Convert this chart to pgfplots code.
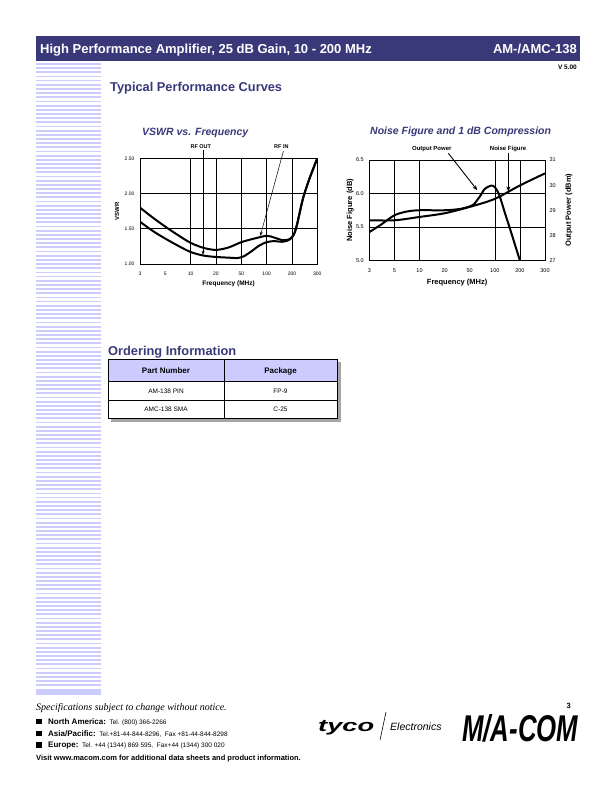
\documentclass[border=0pt]{standalone}
\usepackage{fontspec}
\setmainfont{Liberation Sans}
\newfontfamily\timesfont{Liberation Serif}
\usepackage{pgfplots}
\usepackage{pgfplotstable}
\pgfplotsset{compat=1.18}
\usetikzlibrary{arrows.meta}
\definecolor{navy}{RGB}{57,57,122}
\definecolor{lav}{RGB}{204,204,255}
\newcommand{\fs}[1]{\fontsize{#1}{#1}\selectfont}

\pgfplotstableread{
x y
0 1.80
0.5 1.66
1 1.53
1.5 1.41
2 1.30
2.5 1.23
3 1.20
3.5 1.235
4 1.31
4.5 1.36
5 1.40
5.3 1.375
5.6 1.34
5.85 1.345
6 1.38
6.1 1.44
6.2 1.56
6.3 1.72
6.45 1.95
6.7 2.22
7 2.50
}\rfin

\pgfplotstableread{
x y
0 1.60
0.5 1.47
1 1.36
1.5 1.26
2 1.17
2.5 1.12
3 1.10
3.5 1.09
3.85 1.085
4.1 1.11
4.4 1.18
4.7 1.26
5 1.31
5.3 1.325
5.6 1.315
5.85 1.335
6 1.38
6.1 1.44
6.2 1.56
6.3 1.72
6.45 1.95
6.7 2.22
7 2.50
}\rfout

\pgfplotstableread{
x y
0 5.60
1 5.60
2 5.65
3 5.705
4 5.80
5 5.92
6 6.12
7 6.30
}\nf

\pgfplotstableread{
x y
0 28.13
0.5 28.45
1 28.80
1.5 28.95
2 29.00
3 29.00
3.6 29.05
4 29.15
4.15 29.22
4.4 29.54
4.6 29.85
4.85 29.98
5.0 29.92
5.18 29.6
5.4 28.9
5.6 28.28
5.8 27.64
6.0 27.0
}\opow

\begin{document}
\begin{tikzpicture}
\path[use as bounding box] (0pt,0pt) rectangle (612pt,-792pt);
\fill[white] (0pt,0pt) rectangle (612pt,-792pt);
% header
\fill[navy] (36pt,-36pt) rectangle (580pt,-61pt);
\node[anchor=base west,text=white,inner sep=0pt] at (40pt,-53pt) {\fs{13}\bfseries High Performance Amplifier, 25 dB Gain, 10 - 200 MHz};
\node[anchor=base east,text=white,inner sep=0pt] at (577pt,-53pt) {\fs{13}\bfseries AM-/AMC-138};
\node[anchor=base east,inner sep=0pt] at (577pt,-70pt) {\fs{6.5}\bfseries V 5.00};
% stripes
\foreach \i in {0,...,150} {\fill[lav] (36pt,{-63pt-\i*4.17pt}) rectangle (101pt,{-64.8pt-\i*4.17pt});}
\fill[lav] (36pt,-690pt) rectangle (101pt,-695pt);
% section titles
\node[anchor=base west,inner sep=0pt,text=navy] at (110pt,-91.5pt) {\fs{12.8}\bfseries Typical Performance Curves};
\node[anchor=base west,inner sep=0pt,text=navy] at (142pt,-135pt) {\fs{10.5}\bfseries\itshape VSWR vs. Frequency};
\node[anchor=base west,inner sep=0pt,text=navy] at (370pt,-134pt) {\fs{10.5}\bfseries\itshape Noise Figure and 1 dB Compression};

% ---------------- VSWR chart
\begin{axis}[
  at={(140pt,-264pt)}, anchor=south west,
  scale only axis, width=177.3pt, height=105.7pt,
  xmin=0, xmax=7, ymin=1, ymax=2.5,
  xtick={0,...,7}, xticklabels={3,5,10,20,50,100,200,300},
  ytick={1,1.5,2,2.5},
  extra x ticks={2,3,4,5,6}, extra x tick labels={},
  extra x tick style={grid=major},
  ymajorgrids,
  major tick length=0pt,
  grid style={black, line width=0.6pt},
  axis line style={black, line width=0.7pt},
  /pgf/number format/assume math mode=true,
  xticklabel style={font=\fs{5}, yshift=-4.5pt},
  yticklabel style={font=\fs{5}, xshift=-2pt, /pgf/number format/.cd, fixed, fixed zerofill, precision=2},
  xlabel={Frequency (MHz)}, ylabel={VSWR},
  every axis x label/.style={at={(axis description cs:0.5,0)}, anchor=center, yshift=-20pt, font=\fs{6.5}\bfseries},
  every axis y label/.style={at={(axis description cs:0,0.5)}, anchor=center, xshift=-23pt, rotate=90, font=\fs{6}\bfseries},
]
\addplot[black, line width=2pt, smooth] table[x=x,y=y]{\rfin};
\addplot[black, line width=2pt, smooth] table[x=x,y=y]{\rfout};
\coordinate (rfoutlab) at (axis cs:2.4,2.66);
\coordinate (rfouts) at (axis cs:2.49,2.62);
\coordinate (rfoute) at (axis cs:2.49,1.13);
\coordinate (rfinlab) at (axis cs:5.58,2.66);
\coordinate (rfins) at (axis cs:5.66,2.60);
\coordinate (rfine) at (axis cs:4.75,1.40);
\end{axis}
\node[inner sep=0pt] at (rfoutlab) {\fs{5.5}\bfseries RF OUT};
\node[inner sep=0pt] at (rfinlab) {\fs{5.5}\bfseries RF IN};
\draw[line width=0.5pt,-{Stealth[length=4pt,width=3pt]}] (rfouts) -- (rfoute);
\draw[line width=0.5pt,-{Stealth[length=4pt,width=3pt]}] (rfins) -- (rfine);

% ---------------- Noise figure chart
\begin{axis}[
  at={(369.3pt,-260.5pt)}, anchor=south west,
  scale only axis, width=175.7pt, height=100.5pt,
  xmin=0, xmax=7, ymin=5, ymax=6.5,
  axis y line*=left,
  xtick={0,...,7}, xticklabels={3,5,10,20,50,100,200,300},
  ytick={5,5.5,6,6.5},
  extra x ticks={1,2,5,6}, extra x tick labels={},
  extra x tick style={grid=major},
  ymajorgrids,
  major tick length=0pt,
  grid style={black, line width=0.6pt},
  axis line style={black, line width=0.7pt},
  /pgf/number format/assume math mode=true,
  xticklabel style={font=\fs{5.5}, yshift=-4.5pt},
  yticklabel style={font=\fs{5.5}, xshift=-2pt, /pgf/number format/.cd, fixed, fixed zerofill, precision=1},
  xlabel={Frequency (MHz)}, ylabel={Noise Figure (dB)},
  every axis x label/.style={at={(axis description cs:0.5,0)}, anchor=center, yshift=-22.5pt, font=\fs{7.5}\bfseries},
  every axis y label/.style={at={(axis description cs:0,0.5)}, anchor=center, xshift=-19pt, rotate=90, font=\fs{7.5}\bfseries},
]
\addplot[black, line width=2pt, smooth] table[x=x,y=y]{\nf};
\coordinate (oplab) at (axis cs:2.49,6.66);
\coordinate (ops) at (axis cs:3.15,6.60);
\coordinate (ope) at (axis cs:4.3,6.05);
\coordinate (nflab) at (axis cs:5.53,6.66);
\coordinate (nfs) at (axis cs:5.54,6.61);
\coordinate (nfe) at (axis cs:5.54,6.03);
\end{axis}
\begin{axis}[
  at={(369.3pt,-260.5pt)}, anchor=south west,
  scale only axis, width=175.7pt, height=100.5pt,
  xmin=0, xmax=7, ymin=27, ymax=31,
  axis x line=none, axis y line*=right,
  ytick={27,28,29,30,31},
  major tick length=0pt,
  axis line style={black, line width=0.7pt},
  /pgf/number format/assume math mode=true,
  yticklabel style={font=\fs{5.5}, xshift=1pt},
  ylabel={Output Power (dBm)},
  every axis y label/.style={at={(axis description cs:1,0.5)}, anchor=center, xshift=24pt, rotate=90, font=\fs{7.5}\bfseries},
]
\addplot[black, line width=2pt, smooth] table[x=x,y=y]{\opow};
\end{axis}
\node[inner sep=0pt] at (oplab) {\fs{6}\bfseries Output Power};
\node[inner sep=0pt] at (nflab) {\fs{6}\bfseries Noise Figure};
\draw[line width=0.9pt,-{Stealth[length=5pt,width=4pt]}] (ops) -- (ope);
\draw[line width=0.9pt,-{Stealth[length=5pt,width=4pt]}] (nfs) -- (nfe);

% ---------------- Ordering information
\node[anchor=base west,inner sep=0pt,text=navy] at (108pt,-355.5pt) {\fs{12.8}\bfseries Ordering Information};
\fill[gray!70] (111pt,-362pt) rectangle (340.5pt,-421.5pt);
\fill[white] (108pt,-359pt) rectangle (337pt,-418.5pt);
\fill[lav] (108pt,-359pt) rectangle (337pt,-381.5pt);
\draw[line width=0.8pt] (108pt,-359pt) rectangle (337pt,-418.5pt);
\draw[line width=0.8pt] (108pt,-381.5pt) -- (337pt,-381.5pt);
\draw[line width=0.8pt] (108pt,-400pt) -- (337pt,-400pt);
\draw[line width=0.8pt] (224pt,-359pt) -- (224pt,-418.5pt);
\node[inner sep=0pt] at (166pt,-371pt) {\fs{8}\bfseries Part Number};
\node[inner sep=0pt] at (280.5pt,-371pt) {\fs{8}\bfseries Package};
\node[inner sep=0pt] at (166pt,-391pt) {\fs{6.5}AM-138 PIN};
\node[inner sep=0pt] at (280.5pt,-391pt) {\fs{6.5}FP-9};
\node[inner sep=0pt] at (166pt,-409.5pt) {\fs{6.5}AMC-138 SMA};
\node[inner sep=0pt] at (280.5pt,-409.5pt) {\fs{6.5}C-25};

% ---------------- Footer
\node[anchor=base west,inner sep=0pt] at (36pt,-710pt) {\fs{10}\timesfont\itshape Specifications subject to change without notice.};
\fill (36pt,-718.5pt) rectangle (41.5pt,-724pt);
\node[anchor=base west,inner sep=0pt] at (48pt,-724pt) {\fs{8}\bfseries North America:\fs{6.5}\mdseries\ \ Tel. (800) 366-2266};
\fill (36pt,-730.5pt) rectangle (41.5pt,-736pt);
\node[anchor=base west,inner sep=0pt] at (48pt,-736pt) {\fs{8}\bfseries Asia/Pacific:\fs{6.5}\mdseries\ \ Tel.+81-44-844-8296,\ \ Fax +81-44-844-8298};
\fill (36pt,-742pt) rectangle (41.5pt,-747.5pt);
\node[anchor=base west,inner sep=0pt] at (48pt,-747.5pt) {\fs{8}\bfseries Europe:\fs{6.5}\mdseries\ \ Tel. +44 (1344) 869 595,\ \ Fax+44 (1344) 300 020};
\node[anchor=base west,inner sep=0pt] at (36pt,-760pt) {\fs{7.5}\bfseries Visit www.macom.com for additional data sheets and product information.};
% logos
\node[anchor=base west,inner sep=0pt] at (318pt,-731pt) {\scalebox{1.6}[1]{\fs{17}\bfseries\itshape tyco}};
\draw[line width=0.6pt] (380pt,-740pt) -- (386pt,-712pt);
\node[anchor=base west,inner sep=0pt] at (390pt,-730pt) {\fs{10.5}\itshape Electronics};
\node[anchor=south west,inner sep=0pt] at (462pt,-742pt) {\resizebox{116pt}{27pt}{\bfseries\itshape M/A-COM}};
\node[anchor=base east,inner sep=0pt] at (571pt,-708pt) {\fs{7.5}\bfseries 3};
\end{tikzpicture}
\end{document}
